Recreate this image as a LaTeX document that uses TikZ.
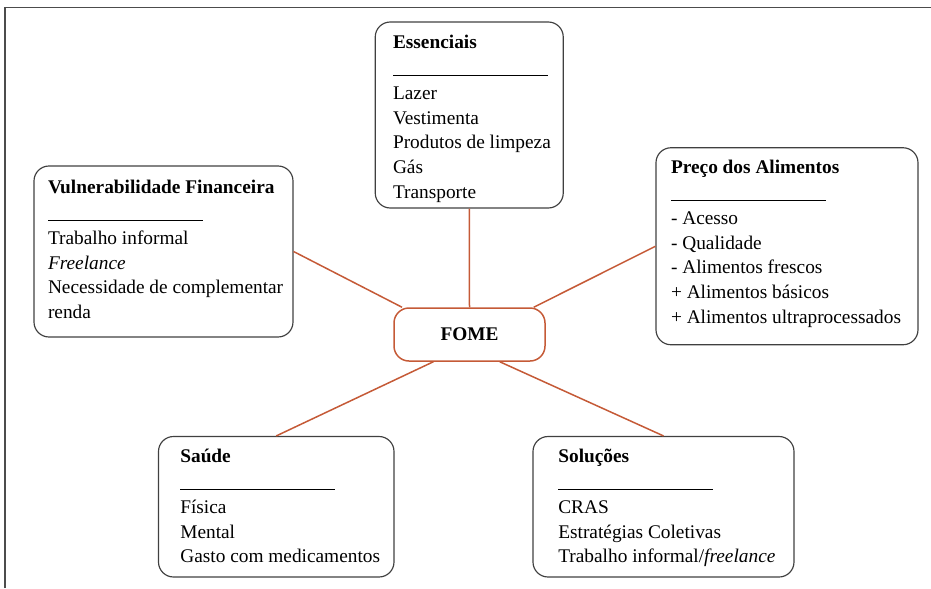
\documentclass[tikz,border=0pt]{standalone}
\usepackage{fontspec}
\setmainfont{Liberation Serif}
\usepackage{tikz}

\definecolor{fomeorange}{RGB}{197,90,55}
\definecolor{boxgray}{RGB}{64,64,64}
\newcommand{\catfont}{\fontsize{11.6}{14.85}\selectfont}
\newcommand{\catline}{\rule[-1.5pt]{93pt}{0.5pt}}

\begin{document}
\begin{tikzpicture}[x=0.6pt,y=-0.6pt]
  \tikzstyle{catbox}=[rectangle,draw=boxgray,line width=0.7pt,rounded corners=9pt,inner sep=0pt]
  \tikzstyle{cattext}=[anchor=north west,inner sep=0pt,align=left,font=\catfont]
  \tikzstyle{link}=[draw=fomeorange,line width=0.9pt]
  \useasboundingbox (0,0) rectangle (931,588);
  \draw[black!70,line width=0.9pt] (5,588) -- (5,7.5) -- (931,7.5);

  % centre
  \node[catbox, draw=fomeorange, line width=0.9pt, minimum width=90.6pt, minimum height=31.8pt, font=\catfont\bfseries] (fome) at (469.5,334.5) {FOME};

  % boxes
  \node[catbox, minimum width=112.8pt, minimum height=111.6pt] (ess) at (469.25,115) {};
  \node[cattext] (esstext) at (392.7,30.5) {\strut\textbf{Essenciais}\\ \catline\\[1pt] Lazer\\ Vestimenta\\ Produtos de limpeza\\ Gás\\ Transporte};

  \node[catbox, minimum width=155.4pt, minimum height=102.6pt] (vuln) at (163.5,251.5) {};
  \node[cattext] (vulntext) at (47.7,175.5) {\strut\textbf{Vulnerabilidade Financeira}\\ \catline\\[1pt] Trabalho informal\\ \textit{Freelance}\\ Necessidade de complementar\\ renda};

  \node[catbox, minimum width=157.2pt, minimum height=118.2pt] (preco) at (787,246.25) {};
  \node[cattext] (precotext) at (670.7,155.5) {\strut\textbf{Preço dos Alimentos}\\ \catline\\[1pt] - Acesso\\ - Qualidade\\ - Alimentos frescos\\ + Alimentos básicos\\ + Alimentos ultraprocessados};

  \node[catbox, minimum width=141.3pt, minimum height=84.3pt] (saude) at (276.25,506.75) {};
  \node[cattext] (saudetext) at (180,444.5) {\strut\textbf{Saúde}\\ \catline\\[1pt] Física\\ Mental\\ Gasto com medicamentos};

  \node[catbox, minimum width=156.6pt, minimum height=84.3pt] (sol) at (663.5,506.75) {};
  \node[cattext] (soltext) at (558,444.5) {\strut\textbf{Soluções}\\ \catline\\[1pt] CRAS\\ Estratégias Coletivas\\ Trabalho informal/\textit{freelance}};

  % links
  \draw[link] (ess.south) -- (fome.north);
  \draw[link] (vuln.east) -- (fome.158);
  \draw[link] (preco.west) -- (fome.23);
  \draw[link] (saude.north) -- (fome.217);
  \draw[link] (sol.north) -- (fome.318);

\end{tikzpicture}
\end{document}
